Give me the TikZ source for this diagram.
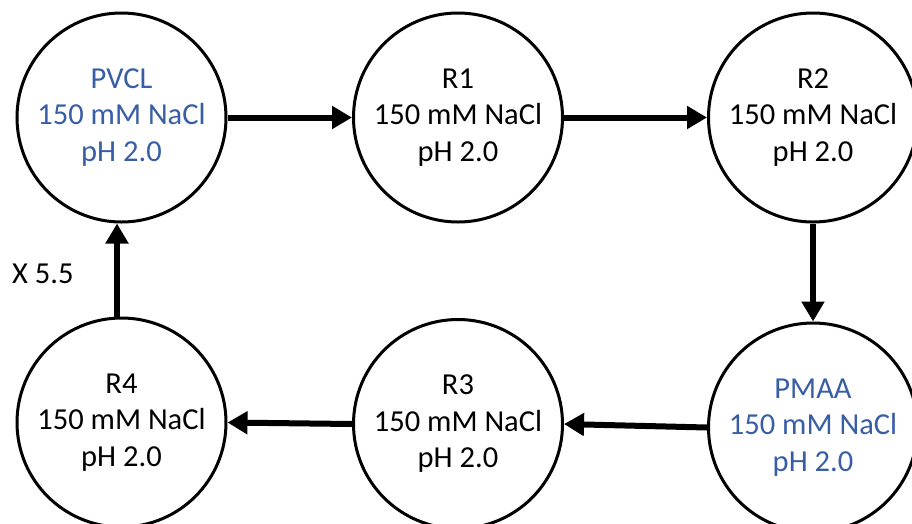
\documentclass[tikz,border=0pt]{standalone}
\usepackage{fontspec}
\setmainfont{Carlito}
\usetikzlibrary{arrows.meta}
\definecolor{polyblue}{RGB}{56,94,166}
\tikzset{
  vessel/.style={draw=black, line width=3pt, circle, minimum size=209pt,
    inner sep=0pt, align=center,
    font=\fontsize{30.5pt}{36.5pt}\selectfont},
  flow/.style={line width=6pt, -{Triangle[length=20pt,width=22pt]}},
}
\begin{document}
\begin{tikzpicture}[x=1pt,y=-1pt]
  \clip (0,0) rectangle (912,523);
  \fill[white] (0,0) rectangle (912,523);

  % top row
  \node[vessel, text=polyblue] (pvcl) at (121.5,117.5) {PVCL\\150 mM NaCl\\pH 2.0};
  \node[vessel] (r1) at (458,117.5) {R1\\150 mM NaCl\\pH 2.0};
  \node[vessel] (r2) at (813,117.5) {R2\\150 mM NaCl\\pH 2.0};

  % bottom row
  \node[vessel, text=polyblue] (pmaa) at (813,427.5) {PMAA\\150 mM NaCl\\pH 2.0};
  \node[vessel] (r3) at (458,424) {R3\\150 mM NaCl\\pH 2.0};
  \node[vessel] (r4) at (121.5,422.5) {R4\\150 mM NaCl\\pH 2.0};

  % transfer cycle
  \draw[flow] (pvcl.east) -- (r1.west);
  \draw[flow] (r1.east) -- (r2.west);
  \draw[flow] (r2.south) -- (pmaa.north);
  \draw[flow] (pmaa.west) -- (r3.east);
  \draw[flow] (r3.west) -- (r4.east);
  \draw[flow] ([xshift=-4.5pt]r4.north) -- ([xshift=-4.5pt]pvcl.south);

  \node[anchor=base west, inner sep=0pt, font=\fontsize{30.5pt}{36.5pt}\selectfont]
    (repeat) at (12,283) {X 5.5};
\end{tikzpicture}
\end{document}
